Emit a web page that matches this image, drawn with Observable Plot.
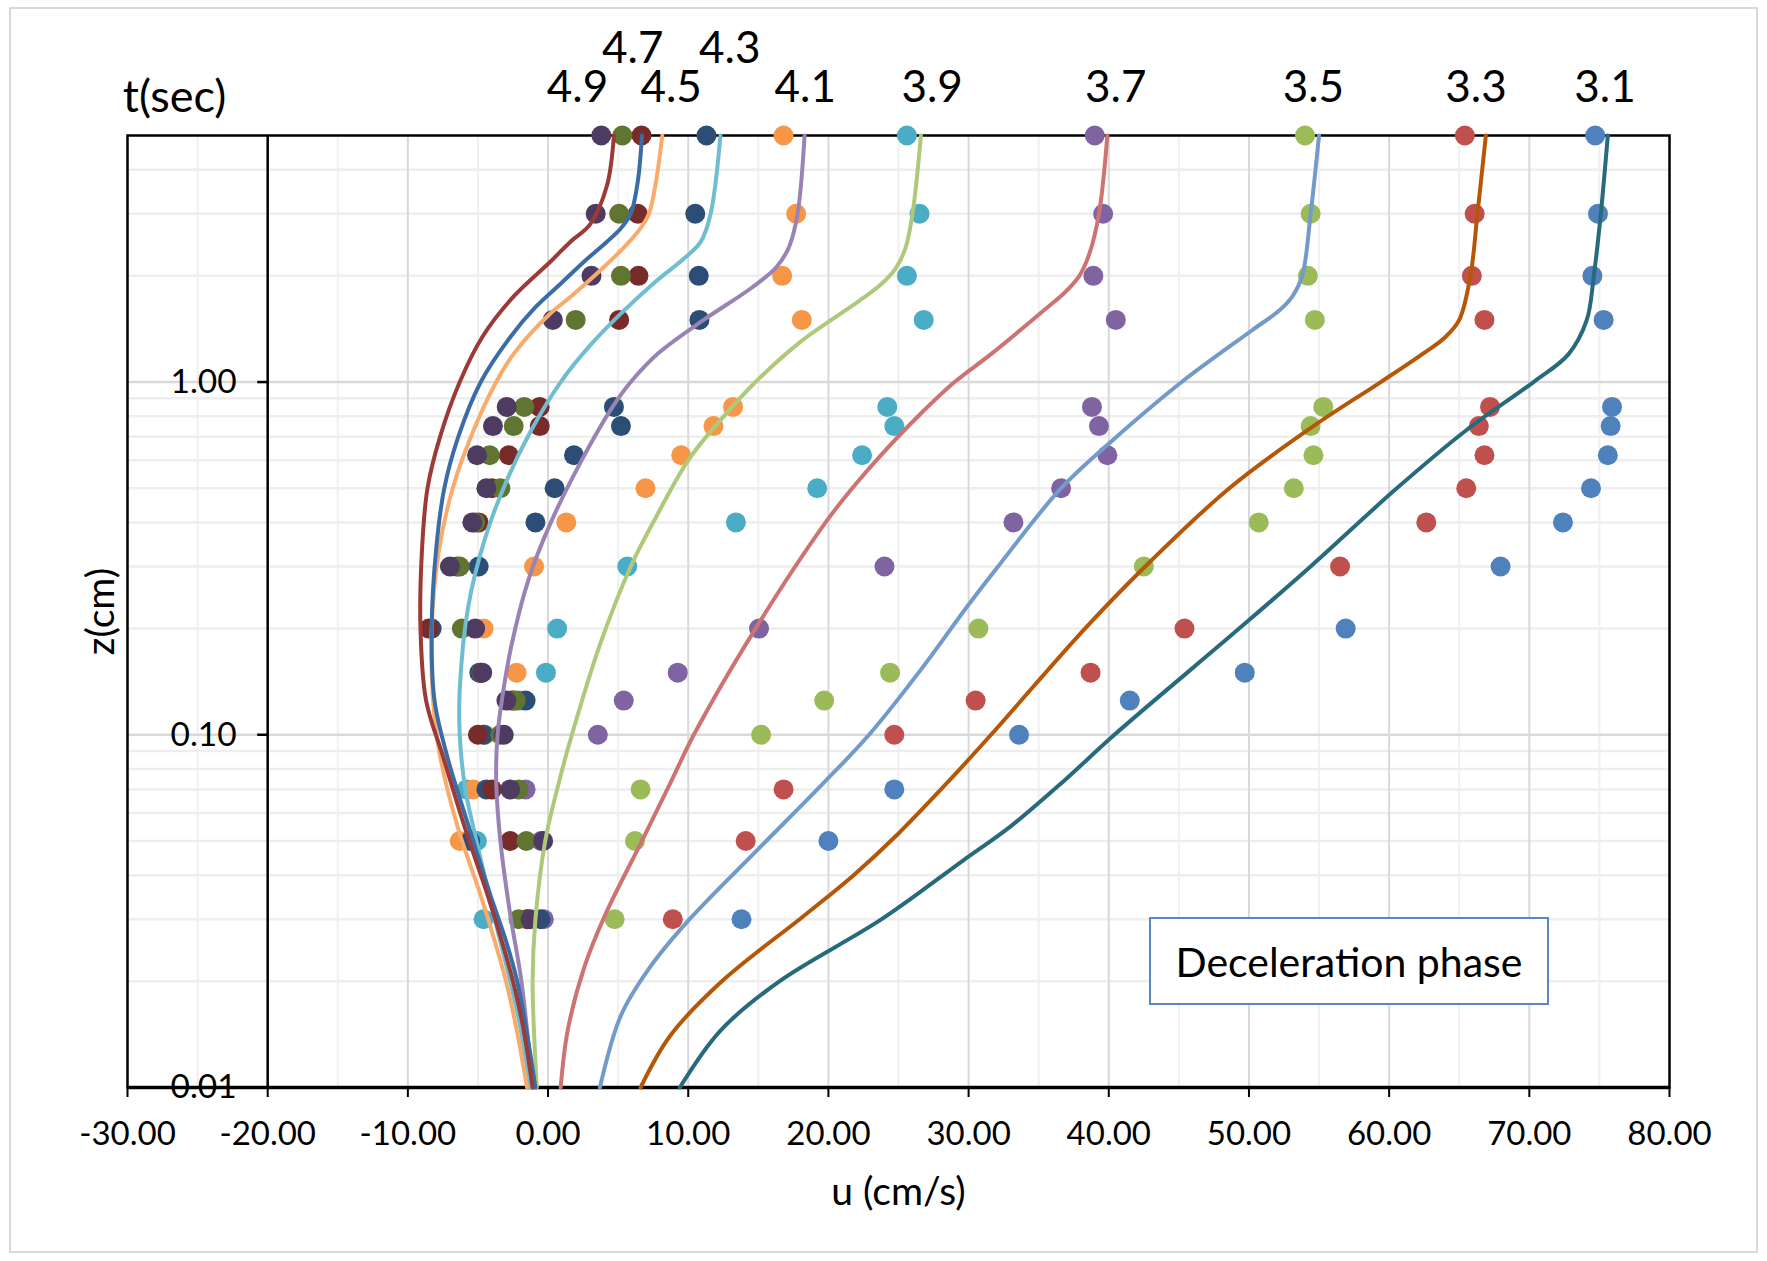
<!DOCTYPE html>
<html>
<head>
<meta charset="utf-8">
<script src="https://cdn.jsdelivr.net/npm/d3@7"></script>
<script src="https://cdn.jsdelivr.net/npm/@observablehq/plot@0.6"></script>
<style>
html, body { margin: 0; padding: 0; background: #fff; }
#wrap { position: relative; width: 1767px; height: 1261px; font-family: Lato, "Open Sans", sans-serif; }
#border { position: absolute; left: 9px; top: 7px; width: 1749px; height: 1246px; border: 2px solid #D9D9D9; box-sizing: border-box; }
#chart { position: absolute; left: 0; top: 0; }
#note { position: absolute; left: 1149px; top: 917px; width: 400px; height: 88px; border: 2.5px solid #5B86C5; box-sizing: border-box;
  background: #fff; display: flex; align-items: center; justify-content: center; font-size: 41px; color: #000; font-family: Lato, sans-serif; }
</style>
</head>
<body>
<div id="wrap">
  <div id="border"></div>
  <div id="chart"></div>
  <div id="note">Deceleration phase</div>
</div>
<script>
// ---- measured z levels (cm) ----
const zLevels = [5, 3, 2, 1.5, 0.85, 0.75, 0.62, 0.5, 0.4, 0.3, 0.2, 0.15, 0.125, 0.1, 0.07, 0.05, 0.03];

// ---- measured velocities u (cm/s) per time ----
const u31 = [74.7, 74.9, 74.5, 75.3, 75.9, 75.8, 75.6, 74.4, 72.4, 67.95, 56.9, 49.7, 41.5, 33.6, 24.7, 20.0, 13.8];
const u33 = [65.4, 66.1, 65.9, 66.8, 67.2, 66.4, 66.8, 65.5, 62.65, 56.5, 45.4, 38.7, 30.5, 24.7, 16.8, 14.1, 8.9];
const u35 = [54.0, 54.4, 54.2, 54.7, 55.3, 54.4, 54.6, 53.2, 50.7, 42.5, 30.7, 24.4, 19.7, 15.2, 6.6, 6.2, 4.75];
const u37 = [39.0, 39.6, 38.9, 40.5, 38.8, 39.3, 39.9, 36.6, 33.2, 24.0, 15.05, 9.25, 5.4, 3.55, -1.6, -0.5, -0.3];
const u39 = [25.6, 26.5, 25.6, 26.8, 24.2, 24.7, 22.4, 19.2, 13.4, 5.65, 0.65, -0.15, -2.0, -4.5, -5.8, -5.07, -4.6];
const u41 = [16.8, 17.7, 16.7, 18.1, 13.2, 11.8, 9.5, 6.95, 1.3, -1.0, -4.6, -2.25, -2.5, -4.5, -5.35, -6.3, -1.5];
const u43 = [11.3, 10.5, 10.75, 10.8, 4.7, 5.2, 1.85, 0.47, -0.9, -4.95, -8.3, -4.9, -1.6, -4.6, -4.4, -5.55, -0.54];
const u45 = [6.67, 6.4, 6.45, 5.07, -0.6, -0.59, -2.8, -4.0, -4.95, -6.5, -8.5, -4.8, -2.5, -5.0, -4.0, -2.7, -1.5];
const u47 = [5.3, 5.07, 5.2, 1.97, -1.7, -2.45, -4.16, -3.4, -5.2, -6.3, -6.15, -4.75, -2.3, -3.4, -2.1, -1.55, -2.1];
const u49 = [3.8, 3.4, 3.1, 0.34, -2.95, -3.93, -5.07, -4.4, -5.4, -7.0, -5.2, -4.7, -2.97, -3.16, -2.7, -0.35, -1.25];

// ---- model profiles [z, u] ----
const model31 = [[0.01, 9.4], [0.0145, 12.3], [0.02, 16.5], [0.03, 23.8], [0.044, 29.6], [0.055, 33.0], [0.074, 36.8], [0.1, 40.4], [0.2, 49.3], [0.3, 54.4], [0.494, 60.4], [0.73, 65.5], [1.0, 70.3], [1.2, 72.8], [1.5, 74.1], [2, 74.6], [3, 75.1], [5, 75.6]];
const model33 = [[0.01, 6.6], [0.014, 8.7], [0.02, 12.4], [0.031, 18.4], [0.04, 21.8], [0.0525, 25.0], [0.074, 28.6], [0.1, 31.6], [0.2, 38.3], [0.3, 42.6], [0.5, 48.6], [0.75, 54.6], [1.0, 59.4], [1.21, 62.5], [1.34, 64.0], [1.5, 65.0], [2, 65.8], [3, 66.3], [5, 66.9]];
const model35 = [[0.01, 3.7], [0.016, 5.2], [0.022, 7.3], [0.03, 10.1], [0.047, 14.9], [0.074, 19.8], [0.1, 22.9], [0.153, 26.6], [0.231, 29.9], [0.3, 32.1], [0.5, 36.6], [0.685, 40.3], [1.0, 45.2], [1.4, 50.2], [1.6, 52.2], [1.75, 53.1], [2, 53.8], [3, 54.4], [5, 55.0]];
const model37 = [[0.01, 0.9], [0.0145, 1.4], [0.022, 2.6], [0.031, 4.1], [0.05, 6.7], [0.074, 8.8], [0.1, 10.4], [0.2, 14.8], [0.4, 19.8], [0.5, 21.7], [0.63, 23.9], [0.8, 26.4], [1.0, 29.0], [1.2, 31.6], [1.6, 35.4], [1.8, 36.9], [2.0, 37.9], [2.3, 38.6], [3, 39.3], [5, 39.9]];
const model39 = [[0.01, -0.8], [0.02, -1.1], [0.03, -0.9], [0.05, -0.2], [0.074, 0.8], [0.1, 1.7], [0.18, 3.7], [0.3, 5.9], [0.4, 7.5], [0.6, 10.0], [0.78, 12.3], [1.0, 14.8], [1.3, 18.0], [1.5, 20.2], [1.7, 22.2], [1.9, 23.8], [2.1, 24.8], [2.4, 25.5], [3, 26.0], [5, 26.6]];
const model41 = [[0.01, -1.1], [0.02, -1.9], [0.031, -2.7], [0.05, -3.4], [0.074, -3.7], [0.1, -3.6], [0.125, -3.3], [0.18, -2.6], [0.275, -1.4], [0.4, 0.2], [0.59, 2.3], [0.85, 4.6], [1.0, 5.9], [1.21, 7.9], [1.5, 11.1], [1.86, 14.6], [2.12, 16.3], [2.42, 17.2], [3, 17.8], [5, 18.3]];
const model43 = [[0.01, -1.3], [0.015, -2.0], [0.02, -2.7], [0.03, -3.8], [0.05, -5.1], [0.07, -5.9], [0.1, -6.3], [0.134, -6.3], [0.23, -5.7], [0.36, -4.5], [0.52, -3.0], [0.73, -1.2], [1.0, 0.9], [1.27, 3.0], [1.55, 5.1], [1.93, 7.7], [2.24, 9.7], [2.5, 10.9], [3, 11.6], [5, 12.3]];
const model45 = [[0.01, -1.5], [0.015, -2.3], [0.02, -3.0], [0.026, -3.8], [0.035, -4.8], [0.054, -6.4], [0.087, -7.7], [0.125, -8.2], [0.2, -8.3], [0.33, -7.8], [0.5, -6.8], [0.7, -5.5], [1.0, -3.7], [1.21, -2.4], [1.57, 0.2], [1.73, 1.5], [2.14, 4.1], [2.5, 5.8], [2.73, 6.6], [3, 7.2], [3.7, 7.7], [5, 8.15]];
const model47 = [[0.01, -0.9], [0.015, -1.6], [0.02, -2.2], [0.026, -3.0], [0.035, -4.1], [0.054, -5.6], [0.087, -7.2], [0.125, -8.1], [0.2, -8.3], [0.33, -8.0], [0.5, -7.4], [0.7, -6.4], [1.0, -4.8], [1.34, -2.7], [1.63, -0.9], [1.9, 0.9], [2.2, 2.6], [2.5, 4.2], [2.73, 5.2], [3, 5.9], [3.7, 6.4], [5, 6.7]];
const model49 = [[0.01, -1.1], [0.015, -1.8], [0.02, -2.5], [0.026, -3.3], [0.035, -4.3], [0.054, -5.9], [0.087, -7.5], [0.125, -8.7], [0.2, -9.1], [0.33, -9.0], [0.5, -8.6], [0.7, -7.7], [1.0, -6.3], [1.34, -4.7], [1.74, -2.5], [2.2, 0.2], [2.5, 1.6], [2.8, 3.0], [3.6, 4.2], [5, 4.7]];

// ---- times, colours ----
const times = ["3.1", "3.3", "3.5", "3.7", "3.9", "4.1", "4.3", "4.5", "4.7", "4.9"];
const measured = [u31, u33, u35, u37, u39, u41, u43, u45, u47, u49];
const models = [model31, model33, model35, model37, model39, model41, model43, model45, model47, model49];
const dotColors = ["#4F81BD", "#C0504D", "#9BBB59", "#8064A2", "#4BACC6", "#F79646", "#2C4D75", "#772C2A", "#5F7530", "#4D3B62"];
const lineColors = ["#276A7C", "#B65708", "#729ACA", "#CD7371", "#AFC97A", "#9983B5", "#6FBDD1", "#F9AB6B", "#3A6CA6", "#9C3A38"];

// ---- time labels above the plot (anchored at u) ----
const labelLow = ["4.9", "4.5", "4.1", "3.9", "3.7", "3.5", "3.3", "3.1"];
const labelLowU = [2.1, 8.78, 18.35, 27.4, 40.5, 54.6, 66.2, 75.4];
const labelHigh = ["4.7", "4.3"];
const labelHighU = [6.04, 12.96];

// ---- axis ticks and grid ----
const xTicks = [-30, -20, -10, 0, 10, 20, 30, 40, 50, 60, 70, 80];
const xGridMajor = [-10, 0, 10, 20, 30, 40, 50, 60, 70];
const xGridMinor = [-25, -15, -5, 5, 15, 25, 35, 45, 55, 65, 75];
const yTicks = [0.01, 0.1, 1];
const yGridMajor = [0.1, 1];
const yGridMinor = [0.02, 0.03, 0.04, 0.05, 0.06, 0.07, 0.08, 0.09, 0.2, 0.3, 0.4, 0.5, 0.6, 0.7, 0.8, 0.9, 2, 3, 4];

const marks = [
  Plot.ruleX(xGridMinor, {stroke: "#F0F0F0", strokeWidth: 2}),
  Plot.ruleY(yGridMinor, {stroke: "#EEEEEE", strokeWidth: 2.5}),
  Plot.ruleX(xGridMajor, {stroke: "#D9D9D9", strokeWidth: 2}),
  Plot.ruleY(yGridMajor, {stroke: "#D9D9D9", strokeWidth: 2.5}),
  Plot.frame({stroke: "#000", strokeWidth: 2.5}),
  Plot.ruleX([-20], {stroke: "#000", strokeWidth: 2.5}),
  Plot.ruleY([0.01], {stroke: "#000", strokeWidth: 3.5}),
  Plot.axisX(xTicks, {tickFormat: d => d.toFixed(2), tickSize: 10, tickPadding: 24, fontSize: 33, stroke: "#000", strokeWidth: 2, label: null, fill: "#000"}),
  Plot.axisY(yTicks, {anchor: "left", dx: 140.2, tickFormat: d => d.toFixed(2), tickSize: 10, tickPadding: 21, fontSize: 33.5, stroke: "#000", strokeWidth: 2.5, label: null, fill: "#000"})
];

times.forEach((t, k) => {
  const pts = zLevels.map((z, i) => ({z, u: measured[k][i]}));
  marks.push(Plot.dot(pts, {x: "u", y: "z", r: 10, fill: dotColors[k], stroke: null}));
});
times.forEach((t, k) => {
  marks.push(Plot.line(models[k], {x: d => d[1], y: d => d[0], stroke: lineColors[k], strokeWidth: 4, curve: "catmull-rom"}));
});

marks.push(
  Plot.text(labelLow.map((t, i) => ({t, u: labelLowU[i]})), {x: "u", text: "t", frameAnchor: "top", dy: -48, fontSize: 44, lineAnchor: "middle", fill: "#000"}),
  Plot.text(labelHigh.map((t, i) => ({t, u: labelHighU[i]})), {x: "u", text: "t", frameAnchor: "top", dy: -87, fontSize: 44, lineAnchor: "middle", fill: "#000"}),
  Plot.text(["t(sec)"], {frameAnchor: "top-left", dx: 47, dy: -38, fontSize: 45, lineAnchor: "middle", textAnchor: "middle", fill: "#000"}),
  Plot.text(["u (cm/s)"], {frameAnchor: "bottom", dy: 105.5, fontSize: 39, lineAnchor: "middle", fill: "#000"}),
  Plot.text(["z(cm)"], {frameAnchor: "left", dx: -26, rotate: -90, fontSize: 39, textAnchor: "middle", lineAnchor: "middle", fill: "#000"})
);

const chart = Plot.plot({
  width: 1767,
  height: 1261,
  marginLeft: 127,
  marginRight: 98,
  marginTop: 135,
  marginBottom: 174,
  x: {domain: [-30, 80]},
  y: {type: "log", domain: [0.01, 5]},
  style: {fontFamily: "Lato, 'Open Sans', sans-serif", fontSize: "31px", color: "#000", background: "transparent", overflow: "visible"},
  marks
});
document.getElementById("chart").appendChild(chart);
</script>
</body>
</html>
